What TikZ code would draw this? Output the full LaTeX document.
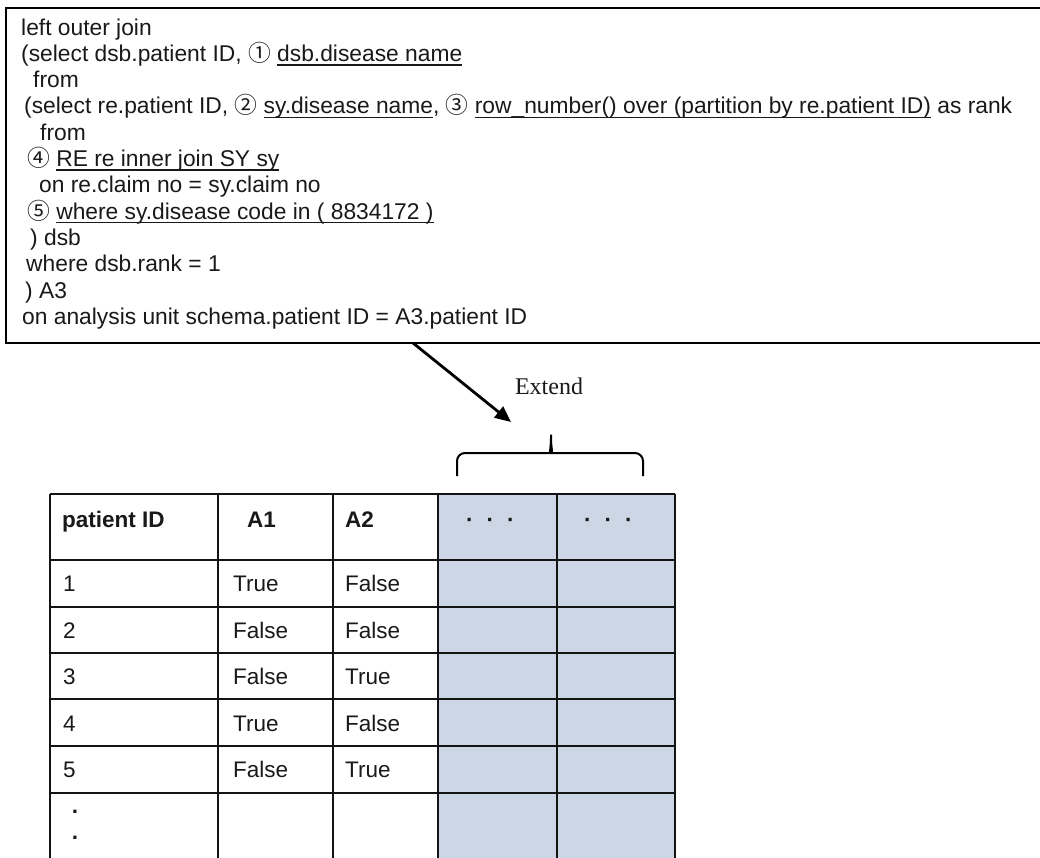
\documentclass[tikz,border=0pt]{standalone}
\usepackage{fontspec}
\setmainfont{Liberation Sans}
\newfontfamily\circfont{Noto Sans CJK JP}
\newfontfamily\timesfont{Liberation Serif}
\usetikzlibrary{arrows.meta}

\definecolor{extfill}{RGB}{205,214,228}
\definecolor{ink}{RGB}{25,25,25}

\newcommand{\sqlsize}{\fontsize{22.8}{26.3}\selectfont}
\newcommand{\cellsize}{\fontsize{22.5}{26}\selectfont}
\newcommand{\cnum}[1]{{\circfont #1}}
% word underline at a fixed depth, as in the query listing
\newsavebox{\ulbox}
\newcommand{\undl}[1]{\sbox{\ulbox}{#1}\rlap{\rule[-4.2pt]{\wd\ulbox}{1.3pt}}\usebox{\ulbox}}

\begin{document}
\begin{tikzpicture}[x=1pt,y=-1pt,
    sql/.style={anchor=base west,inner sep=0pt,text=ink,font=\sqlsize},
    cell/.style={anchor=base west,inner sep=0pt,text=ink,font=\cellsize},
    head/.style={cell,font=\cellsize\bfseries},
    grid/.style={line width=1.8pt,draw=black!92}]
  \useasboundingbox (0,0) rectangle (1040,857);
  \clip (0,0) rectangle (1040,857);

  % query box
  \node[draw,line width=2.4pt,anchor=north west,minimum width=1050pt,minimum height=335pt,inner sep=0pt] (query) at (5,7) {};
  \foreach \n/\dx/\txt in {
      0/21/{left outer join},
      1/21/{(select dsb.patient ID, \cnum{①} \undl{dsb.disease name}},
      2/33/{from},
      3/24/{(select re.patient ID, \cnum{②} \undl{sy.disease name}, \cnum{③} \undl{row\_number() over (partition by re.patient ID)} as rank},
      4/40/{from},
      5/27/{\cnum{④} \undl{RE re inner join SY sy}},
      6/39/{on re.claim no = sy.claim no},
      7/27/{\cnum{⑤} \undl{where sy.disease code in ( 8834172 )}},
      8/30/{) dsb},
      9/26/{where dsb.rank = 1},
      10/25/{) A3},
      11/22/{on analysis unit schema.patient ID = A3.patient ID}} {
    \node[sql] (line\n) at (\dx,{35+26.3*\n}) {\txt};
  }

  % arrow down to the new columns
  \coordinate (arrfrom) at (413,343);
  \coordinate (arrto) at (511,422);
  \draw[line width=2.8pt,-{Triangle[length=16pt,width=14pt]}] (arrfrom) -- (arrto);
  \node[font=\timesfont\fontsize{24}{28}\selectfont,text=ink] (extlabel) at (549,386) {Extend};

  % brace over the extended columns
  \draw[line width=2pt,rounded corners=8pt] (457,476) |- (543,453)
    .. controls (549,453) and (551,447) .. (551,430)
    .. controls (551,447) and (553,453) .. (559,453) -| (643,476);

  % result table
  \fill[extfill] (438,494) rectangle (675,870);
  \foreach \x in {50,218,333,438,557,675}
    \draw[grid] (\x,494) -- (\x,870);
  \foreach \y in {494,560,607,653,699,746,793}
    \draw[grid] (50,\y) -- (675,\y);

  \node[head] (hid) at (62,527) {patient ID};
  \node[head] (ha1) at (247,527) {A1};
  \node[head] (ha2) at (345,527) {A2};
  \node[head] (hx1) at (466,527) {·\hspace{13pt}·\hspace{13pt}·};
  \node[head] (hx2) at (584,527) {·\hspace{13pt}·\hspace{13pt}·};

  \foreach \r/\ao/\at in {1/True/False,2/False/False,3/False/True,4/True/False,5/False/True} {
    \node[cell] (id\r) at (63,{591.5+46.5*(\r-1)}) {\r};
    \node[cell] (a\r) at (233,{591.5+46.5*(\r-1)}) {\ao};
    \node[cell] (b\r) at (345,{591.5+46.5*(\r-1)}) {\at};
  }
  \node[cell,anchor=center,align=left,font=\cellsize\bfseries] (more) at (75,825) {.\\.};
\end{tikzpicture}
\end{document}
